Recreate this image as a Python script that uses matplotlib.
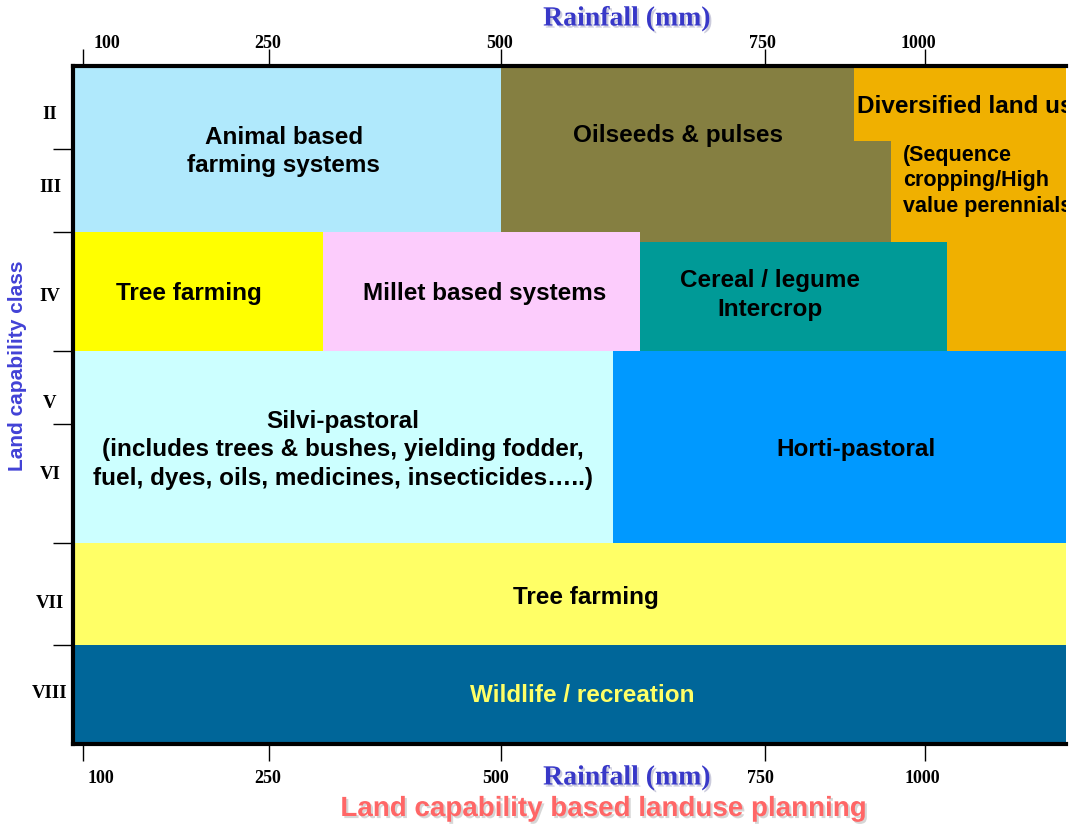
import numpy as np
import matplotlib
matplotlib.use("Agg")
import matplotlib.pyplot as plt
from matplotlib.patches import Rectangle
import matplotlib.patheffects as pe
import matplotlib.transforms as mtransforms

# ---------------- data ----------------
rain_ticks = [100, 250, 500, 750, 1000]
class_labels = ['II', 'III', 'IV', 'V', 'VI', 'VII', 'VIII']
class_label_pos = [2.05, 2.93, 4.02, 5.18, 5.90, 7.06, 7.96]
class_bounds = [1.5, 2.5, 3.5, 4.5, 5.5, 6.5, 7.5, 8.5]

rain_min, rain_max = 92, 1220

zone_names = ['Animal', 'Oilseeds', 'DivTop', 'DivMain', 'TreeFarm1', 'Millet',
              'Cereal', 'Silvi', 'Horti', 'TreeFarm2', 'Wildlife']
zone_x0 = [92, 500, 889, 947, 92, 308, 632, 92, 606, 92, 92]
zone_x1 = [500, 947, 1220, 1220, 308, 632, 1034, 606, 1220, 1220, 1220]
zone_y0 = [1.5, 1.5, 1.5, 1.5, 3.5, 3.5, 3.58, 4.5, 4.5, 6.5, 7.5]
zone_y1 = [3.5, 3.58, 2.40, 4.5, 4.5, 4.5, 4.5, 6.5, 6.5, 7.5, 8.5]
zone_colors = ['#B0E9FC', '#857F41', '#F0B000', '#F0B000', '#FFFF00', '#FCCCFC',
               '#009A97', '#CCFFFF', '#0099FF', '#FFFF66', '#006699']

label_texts = ['Animal based\nfarming systems', 'Oilseeds & pulses',
               'Diversified land use', '(Sequence\ncropping/High\nvalue perennials)',
               'Tree farming', 'Millet based systems', 'Cereal / legume\nIntercrop',
               'Silvi-pastoral\n(includes trees & bushes, yielding fodder,\nfuel, dyes, oils, medicines, insecticides\u2026..)',
               'Horti-pastoral', 'Tree farming', 'Wildlife / recreation']
label_x = [266, 668, 894, 966, 185, 482, 758, 330, 892, 580, 577]
label_y = [2.52, 2.32, 1.97, 2.87, 4.01, 4.01, 4.02, 5.71, 5.71, 7.02, 8.005]
label_ha = ['center', 'center', 'left', 'left', 'center', 'center', 'center',
            'center', 'center', 'center', 'center']
label_size = [17.5, 17.5, 17.5, 15.5, 17.5, 17.5, 17.5, 17.5, 17.5, 17.5, 17.5]
label_color = ['black'] * 10 + ['#FFFF66']

# ---------------- scales (layout) ----------------
x_nodes = [92, 100, 250, 500, 750, 1000, 1220]
x_pos = [73, 83, 269, 501, 765, 925, 1066]
y_pos = [67, 150, 233, 352, 425, 544, 646, 745]

# tick label nudges in pixels (dx for bottom, dx for top)
bottom_dx = [18, -1, -5, -5, -3]
top_dx = [24, -1, -1, -3, -7]


def make_pw(xs, ys):
    xs = np.asarray(xs, float)
    ys = np.asarray(ys, float)

    def f(v):
        v = np.asarray(v, float)
        out = np.interp(v, xs, ys)
        s0 = (ys[1] - ys[0]) / (xs[1] - xs[0])
        s1 = (ys[-1] - ys[-2]) / (xs[-1] - xs[-2])
        out = np.where(v < xs[0], ys[0] + (v - xs[0]) * s0, out)
        out = np.where(v > xs[-1], ys[-1] + (v - xs[-1]) * s1, out)
        return out
    return f


W, H = 1074, 828
fig = plt.figure(figsize=(W / 100, H / 100), dpi=100)
ax = fig.add_axes([73 / W, 1 - 745 / H, (1066 - 73) / W, (745 - 67) / H])

ax.set_xscale('function', functions=(make_pw(x_nodes, x_pos), make_pw(x_pos, x_nodes)))
ax.set_yscale('function', functions=(make_pw(class_bounds, y_pos), make_pw(y_pos, class_bounds)))
ax.set_xlim(rain_min, rain_max)
ax.set_ylim(class_bounds[-1], class_bounds[0])

for x0, x1, y0, y1, c in zip(zone_x0, zone_x1, zone_y0, zone_y1, zone_colors):
    ax.add_patch(Rectangle((x0, y0), x1 - x0, y1 - y0, facecolor=c,
                           edgecolor='none', zorder=1))

for t, x, y, ha, s, c in zip(label_texts, label_x, label_y, label_ha, label_size, label_color):
    ax.text(x, y, t, ha=ha, va='center', fontsize=s, fontweight='bold',
            family='Liberation Sans', color=c,
            linespacing=1.3 if ha == 'center' else 1.27,
            multialignment='center' if ha == 'center' else 'left',
            clip_on=True, zorder=3)

# axes styling
for side in ['top', 'left', 'bottom']:
    ax.spines[side].set_linewidth(3)
    ax.spines[side].set_color('black')
ax.spines['right'].set_visible(False)

ax.set_xticks(rain_ticks)
ax.set_xticklabels([str(v) for v in rain_ticks])
ax.xaxis.set_minor_locator(matplotlib.ticker.NullLocator())
ax.tick_params(axis='x', which='major', top=True, labeltop=True, bottom=True,
               labelbottom=True, direction='out', length=12.5, width=1, pad=1,
               labelsize=13)

ax.set_yticks(class_label_pos)
ax.set_yticklabels(class_labels)
ax.set_yticks(class_bounds[1:-1], minor=True)
ax.tick_params(axis='y', which='major', length=0, pad=16.6, labelsize=13.5)
ax.tick_params(axis='y', which='minor', length=14.5, width=1, direction='out',
               labelleft=False)
for lab in ax.get_yticklabels():
    lab.set_fontfamily('Liberation Serif')
    lab.set_fontweight('bold')
    lab.set_horizontalalignment('center')

# fonts and nudges for x tick labels
for i, tk in enumerate(ax.xaxis.get_major_ticks()):
    for lab in (tk.label1, tk.label2):
        lab.set_fontfamily('Liberation Serif')
        lab.set_fontweight('bold')
    tk.label1.set_transform(tk.label1.get_transform() +
                            mtransforms.ScaledTranslation(bottom_dx[i] / 100, -6 / 100,
                                                          fig.dpi_scale_trans))
    tk.label2.set_transform(tk.label2.get_transform() +
                            mtransforms.ScaledTranslation(top_dx[i] / 100, -4 / 100,
                                                          fig.dpi_scale_trans))

shadow_blue = [pe.withSimplePatchShadow(offset=(1.5, -1.5), shadow_rgbFace='#9999BB', alpha=0.5)]
shadow_red = [pe.withSimplePatchShadow(offset=(1.5, -1.5), shadow_rgbFace='#BBBBBB', alpha=0.6)]

fig.text(627 / W, 1 - 20 / H, 'Rainfall (mm)', ha='center', va='center', fontsize=20,
         fontweight='bold', family='Liberation Serif', color='#3838C8',
         path_effects=shadow_blue)
fig.text(627 / W, 1 - 779 / H, 'Rainfall (mm)', ha='center', va='center', fontsize=20,
         fontweight='bold', family='Liberation Serif', color='#3838C8',
         path_effects=shadow_blue)
fig.text(18 / W, 1 - 366 / H, 'Land capability class', ha='center', va='center',
         rotation=90, fontsize=15, fontweight='bold', family='Liberation Sans',
         color='#4242D6')
fig.text(603 / W, 1 - 810 / H, 'Land capability based landuse planning', ha='center',
         va='center', fontsize=20, fontweight='bold', family='Liberation Sans',
         color='#FF6666', path_effects=shadow_red)

fig.savefig('out.png', dpi=100)
